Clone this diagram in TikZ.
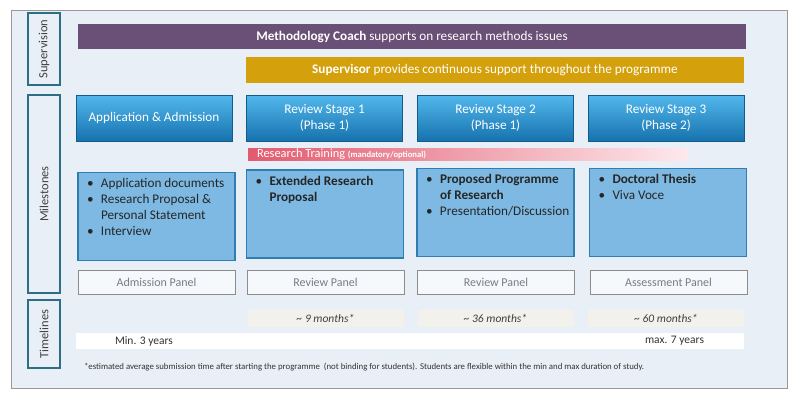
\documentclass[tikz,border=0pt]{standalone}
\usepackage{fontspec}
\setmainfont{Carlito}
\definecolor{bgblue}{HTML}{E9EFF7}
\definecolor{coach}{HTML}{6A4F76}
\definecolor{superv}{HTML}{D4A00C}
\definecolor{stagetop}{HTML}{52B8EC}
\definecolor{stagebot}{HTML}{1672AE}
\definecolor{mileblue}{HTML}{7DB9E2}
\definecolor{mileline}{HTML}{2F7EB2}
\definecolor{sideline}{HTML}{2E6E85}
\definecolor{paneltext}{HTML}{7A7B85}
\definecolor{monthfill}{HTML}{F2F1EB}
\definecolor{trainred}{HTML}{E25A6D}
\definecolor{trainpink}{HTML}{FDE9ED}
\newcommand{\itm}[1]{\par\hangindent=14pt\hangafter=1\noindent\makebox[14pt][l]{\textbullet}#1}
\begin{document}
\begin{tikzpicture}[x=1pt,y=-1pt]
        \tikzstyle{every node}=[inner sep=0pt, outer sep=0pt, align=center]
        \tikzstyle{side}=[rectangle, draw=sideline, line width=1.6pt, fill=bgblue, minimum width=32pt, text=black!75, font=\fontsize{12.5}{14}\selectfont]
        \tikzstyle{bar}=[rectangle, minimum height=25pt, text=white, font=\fontsize{13.2}{15}\selectfont]
        \tikzstyle{stage}=[rectangle, top color=stagetop, bottom color=stagebot, draw=stagebot!80!black, line width=0.6pt, minimum width=156pt, minimum height=46pt, text=white, font=\fontsize{13.2}{16}\selectfont]
        \tikzstyle{mile}=[rectangle, fill=mileblue, draw=mileline, line width=1.5pt, minimum width=157pt, minimum height=88pt, text=black!85, font=\fontsize{13.2}{16}\selectfont]
        \tikzstyle{panel}=[rectangle, fill=white!60!bgblue, draw=black!45, line width=0.8pt, minimum width=157pt, minimum height=24pt, text=paneltext, font=\fontsize{12}{14}\selectfont]
        \tikzstyle{month}=[rectangle, fill=monthfill, minimum width=156pt, minimum height=17pt, text=black!75, font=\fontsize{11.5}{13}\selectfont\itshape]

        \useasboundingbox (0,0) rectangle (800,400);
        \draw[black!40, line width=1pt, fill=bgblue] (11,10) rectangle (787,388);

        % side labels
        \node[side, minimum height=72pt]  (sup)  at (44,49)  {\rotatebox{90}{Supervision}};
        \node[side, minimum height=198pt] (mil)  at (44,194) {\rotatebox{90}{Milestones}};
        \node[side, minimum height=68pt]  (time) at (44,334) {\rotatebox{90}{Timelines}};

        % supervision bars
        \node[bar, fill=coach, minimum width=668pt]  (coach) at (412,36.5) {\textbf{Methodology Coach} supports on research methods issues};
        \node[bar, fill=superv, minimum width=498pt, minimum height=26pt] (superv) at (495,70) {\textbf{Supervisor} provides continuous support throughout the programme};

        % stages
        \node[stage] (adm) at (154,118)   {Application \& Admission};
        \node[stage] (rs1) at (324.5,118) {Review Stage 1\\(Phase 1)};
        \node[stage] (rs2) at (495.5,118) {Review Stage 2\\(Phase 1)};
        \node[stage] (rs3) at (666,118)   {Review Stage 3\\(Phase 2)};

        \node[rectangle, left color=trainred, right color=trainpink, minimum width=440pt, minimum height=12pt] (train) at (468,154) {};
        \node[anchor=west, text=white, font=\fontsize{12.4}{13}\selectfont] (traintext) at (257,154) {Research Training \textbf{\fontsize{8.6}{9}\selectfont(mandatory/optional)}};

        % milestones
        \node[mile] (m0) at (156.5,216.5) {\begin{minipage}[t][76pt][t]{139pt}\itm{Application documents}\itm{Research Proposal \&\\Personal Statement}\itm{Interview}\end{minipage}};
        \node[mile] (m1) at (325,214)     {\begin{minipage}[t][76pt][t]{139pt}\itm{\textbf{Extended Research\\Proposal}}\end{minipage}};
        \node[mile] (m2) at (495.5,212.5) {\begin{minipage}[t][76pt][t]{139pt}\itm{\textbf{Proposed Programme\\of Research}}\itm{Presentation/Discussion}\end{minipage}};
        \node[mile] (m3) at (668,212.5)   {\begin{minipage}[t][76pt][t]{139pt}\itm{\textbf{Doctoral Thesis}}\itm{Viva Voce}\end{minipage}};

        % panels
        \node[panel] (p0) at (156.5,282) {Admission Panel};
        \node[panel] (p1) at (325.5,282) {Review Panel};
        \node[panel] (p2) at (496,282)   {Review Panel};
        \node[panel] (p3) at (668.5,282) {Assessment Panel};

        % timelines
        \node[month] (t1) at (325.5,318.5) {\textasciitilde\ 9 months*};
        \node[month] (t2) at (495.5,318.5) {\textasciitilde\ 36 months*};
        \node[month] (t3) at (666,318.5)   {\textasciitilde\ 60 months*};
        \node[rectangle, fill=white, minimum width=668pt, minimum height=16pt] (span) at (410,341) {};
        \node[anchor=west, font=\fontsize{11.5}{13}\selectfont, text=black!80] (min) at (115,341) {Min. 3 years};
        \node[anchor=east, font=\fontsize{11.5}{13}\selectfont, text=black!80] (max) at (704,341) {max. 7 years};

        \node[anchor=west, font=\fontsize{8.8}{10}\selectfont, text=black!80] (note) at (84,367) {*estimated average submission time after starting the programme\ \ (not binding for students). Students are flexible within the min and max duration of study.};
    \end{tikzpicture}
\end{document}
